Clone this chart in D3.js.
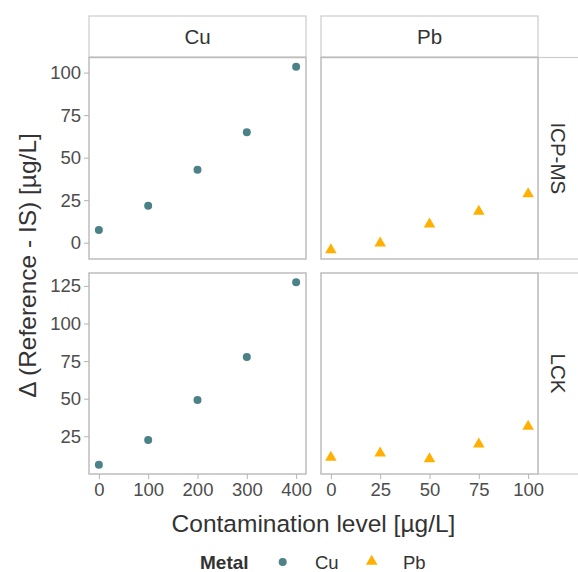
<!DOCTYPE html>
<html><head><meta charset="utf-8">
<script src="https://cdn.jsdelivr.net/npm/d3@7"></script>
<style>body{margin:0;background:#fff}svg{display:block}text{font-family:"Liberation Sans",Arial,sans-serif}</style>
</head><body><svg id="c" width="578" height="572"></svg>
<script>
const metals = ["Cu", "Pb"];
const methods = ["ICP-MS", "LCK"];
const levelsCu = [0, 100, 200, 300, 400];
const levelsPb = [0, 25, 50, 75, 100];
const cuICP = [7.5, 21.7, 42.9, 65.0, 103.5];
const pbICP = [-4.2, -0.3, 10.9, 18.4, 28.7];
const cuLCK = [6.0, 22.6, 49.1, 77.7, 127.5];
const pbLCK = [11.0, 13.8, 10.0, 19.8, 31.5];
const xTicksCu = [0, 100, 200, 300, 400];
const xTicksPb = [0, 25, 50, 75, 100];
const yTicksICP = [0, 25, 50, 75, 100];
const yTicksLCK = [25, 50, 75, 100, 125];
const colors = {Cu: "#4b8187", Pb: "#ffb000"};

const svg = d3.select("#c");
const colX = {Cu: [89, 306], Pb: [321, 538]};
const rowY = {"ICP-MS": [57.5, 259], "LCK": [273, 474]};
const levels = {Cu: levelsCu, Pb: levelsPb};
const vals = {"ICP-MS": {Cu: cuICP, Pb: pbICP}, "LCK": {Cu: cuLCK, Pb: pbLCK}};
const xTicks = {Cu: xTicksCu, Pb: xTicksPb};
const yTicks = {"ICP-MS": yTicksICP, "LCK": yTicksLCK};

function expand(ext){const d=(ext[1]-ext[0])*0.05;return [ext[0]-d, ext[1]+d];}
const xScale = {}, yScale = {};
metals.forEach(m => { xScale[m] = d3.scaleLinear().domain(expand(d3.extent(levels[m]))).range(colX[m]); });
methods.forEach(r => {
  const all = vals[r].Cu.concat(vals[r].Pb);
  yScale[r] = d3.scaleLinear().domain(expand(d3.extent(all))).range([rowY[r][1], rowY[r][0]]);
});

const border = "#bdbdbd", stripBorder = "#cccccc", tickCol = "#b3b3b3", tickText = "#4d4d4d", titleCol = "#333";

// top strips
metals.forEach(m => {
  svg.append("rect").attr("x", colX[m][0]).attr("y", 16).attr("width", colX[m][1]-colX[m][0]).attr("height", 41)
    .attr("fill", "#fff").attr("stroke", stripBorder).attr("stroke-width", 1.2);
  svg.append("text").attr("x", (colX[m][0]+colX[m][1])/2).attr("y", 44).attr("text-anchor", "middle")
    .attr("font-size", 20.5).attr("fill", titleCol).text(m);
});
// right strips
methods.forEach(r => {
  svg.append("rect").attr("x", 538).attr("y", rowY[r][0]).attr("width", 41).attr("height", rowY[r][1]-rowY[r][0])
    .attr("fill", "#fff").attr("stroke", stripBorder).attr("stroke-width", 1.2);
  const cy = (rowY[r][0]+rowY[r][1])/2;
  svg.append("text").attr("transform", `translate(551,${cy}) rotate(90)`).attr("text-anchor", "middle")
    .attr("font-size", 20.5).attr("fill", titleCol).text(r);
});

const triangle = d3.symbol().type(d3.symbolTriangle).size(58);
methods.forEach(r => {
  metals.forEach(m => {
    const x = xScale[m], y = yScale[r];
    const g = svg.append("g");
    g.append("rect").attr("x", colX[m][0]).attr("y", rowY[r][0]).attr("width", colX[m][1]-colX[m][0])
      .attr("height", rowY[r][1]-rowY[r][0]).attr("fill", "#fff").attr("stroke", border).attr("stroke-width", 1.5);
    const data = levels[m].map((lv, i) => ({x: lv, y: vals[r][m][i]}));
    if (m === "Cu") {
      g.selectAll("circle").data(data).join("circle").attr("cx", d => x(d.x)).attr("cy", d => y(d.y))
        .attr("r", 4).attr("fill", colors.Cu);
    } else {
      g.selectAll("path.pt").data(data).join("path").attr("class", "pt")
        .attr("transform", d => `translate(${x(d.x)},${y(d.y)})`).attr("d", triangle).attr("fill", colors.Pb);
    }
  });
});

// y axes (left column)
methods.forEach(r => {
  const ax = svg.append("g").attr("transform", `translate(89,0)`)
    .call(d3.axisLeft(yScale[r]).tickValues(yTicks[r]).tickSize(5).tickPadding(3));
  ax.select(".domain").remove();
  ax.selectAll(".tick line").attr("stroke", tickCol);
  ax.selectAll(".tick text").attr("font-size", 18.5).attr("fill", tickText).attr("font-family", '"Liberation Sans",Arial,sans-serif');
});
// x axes (bottom row)
metals.forEach(m => {
  const ax = svg.append("g").attr("transform", `translate(0,474)`)
    .call(d3.axisBottom(xScale[m]).tickValues(xTicks[m]).tickSize(5).tickPadding(4));
  ax.select(".domain").remove();
  ax.selectAll(".tick line").attr("stroke", tickCol);
  ax.selectAll(".tick text").attr("font-size", 18.5).attr("fill", tickText).attr("font-family", '"Liberation Sans",Arial,sans-serif');
});

// titles
svg.append("text").attr("x", 313.5).attr("y", 532).attr("text-anchor", "middle").attr("font-size", 24.5)
  .attr("fill", titleCol).text("Contamination level [µg/L]");
svg.append("text").attr("transform", `translate(36,265.5) rotate(-90)`).attr("text-anchor", "middle").attr("font-size", 24.5)
  .attr("fill", titleCol).text("Δ (Reference - IS) [µg/L]");

// legend
const lg = svg.append("g");
lg.append("text").attr("x", 200).attr("y", 569).attr("font-size", 19).attr("font-weight", "bold").attr("fill", titleCol).text("Metal");
lg.append("circle").attr("cx", 282.7).attr("cy", 562).attr("r", 4).attr("fill", colors.Cu);
lg.append("text").attr("x", 315).attr("y", 569).attr("font-size", 18.5).attr("fill", titleCol).text(metals[0]);
lg.append("path").attr("transform", "translate(371.7,561.5)").attr("d", triangle).attr("fill", colors.Pb);
lg.append("text").attr("x", 403).attr("y", 569).attr("font-size", 18.5).attr("fill", titleCol).text(metals[1]);
</script></body></html>
